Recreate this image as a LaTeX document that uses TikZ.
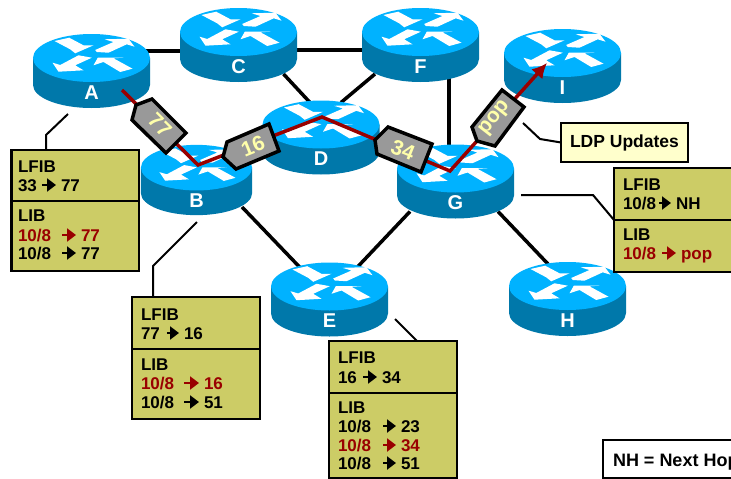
\documentclass[tikz,border=0pt]{standalone}
\usepackage{fontspec}
\setmainfont{Liberation Sans}
\usetikzlibrary{arrows.meta}
\definecolor{routertop}{RGB}{0, 178, 255}
\definecolor{routerside}{RGB}{0, 120, 170}
\definecolor{labelred}{RGB}{153, 0, 0}
\definecolor{panelolive}{RGB}{204, 204, 102}
\definecolor{noteyellow}{RGB}{255, 255, 204}
\definecolor{taggray}{RGB}{153, 153, 153}
\definecolor{tagtext}{RGB}{255, 255, 170}
\pgfdeclarelayer{background}
\pgfsetlayers{background,main}
\tikzset{
    routerbody/.pic={
        \fill[routerside] (-58.5,-13) -- (-58.5,14) arc[start angle=180, end angle=0, x radius=58.5, y radius=23] -- (58.5,-13) -- cycle;
        \fill[routertop] (0,-13) ellipse[x radius=58.5, y radius=24];
        \fill[white] (-37,-30) -- (-22.3,-33.3) -- (-8,-25.7) -- (2,-25.7) -- (-16.3,-17.7) -- (-21.3,-21.7) -- cycle;
        \fill[white] (3.7,-21) -- (22,-29) -- (13,-31.7) -- (37,-32.3) -- (43,-24.3) -- (35.3,-26.7) -- (17,-18.3) -- (5.3,-19) -- cycle;
        \fill[white] (0.3,-13.3) -- (-16.3,-5.7) -- (-8,-0.7) -- (-33,0.7) -- (-39,-8.3) -- (-31.3,-6) -- (-13,-15.7) -- cycle;
        \fill[white] (41,-2.3) -- (22,-12.7) -- (32,-13.3) -- (6.3,-13.3) -- (2,-5.7) -- (12,-9) -- (28.7,1) -- cycle;
    },
    routerbox/.style={minimum width=117pt, minimum height=74pt, inner sep=0pt, outer sep=0pt},
    routername/.style={text=white, inner sep=0pt, font=\fontsize{20}{22}\selectfont\bfseries},
    link/.style={line width=3.5pt, black},
    labelpath/.style={line width=3.5pt, labelred, -{Latex[length=15pt, width=15pt]}},
    tagshape/.style={fill=taggray, draw=black, line width=3.5pt, line join=miter},
    tagname/.style={text=tagtext, inner sep=0pt, font=\fontsize{21}{23}\selectfont\bfseries},
    panel/.style={fill=panelolive, draw=black, line width=2.5pt, inner sep=0pt, outer sep=0pt},
    notebox/.style={draw=black, line width=2.5pt, inner sep=0pt, outer sep=0pt},
    callout/.style={line width=2pt, black},
    cell/.style={anchor=base west, inner sep=0pt, outer sep=0pt, text height=12pt, text depth=0pt, font=\fontsize{17}{20}\selectfont\bfseries},
    fwd/.style={line width=2.5pt, -{Triangle[length=9pt, width=13pt]}, shorten >=5pt}
}
\newcommand{\router}[4][1]{
    \pic[scale=#1] at (#3,#4) {routerbody};
    \node[routerbox, label={[routername, yshift={-21.5pt*#1}]center:#2}] (#2) at (#3,#4) {};
}
% id, baseline, x, text, x, text, gap, colour
\newcommand{\binding}[8]{
    \node[cell, text=#8] (#1a) at (#3,#2) {#4};
    \node[cell, text=#8] (#1b) at (#5,#2) {#6};
    \draw[fwd, #8, shorten <=#7pt] (#1a.east) -- (#1b.west);
}

\begin{document}
\begin{tikzpicture}[x=1pt, y=-1pt]
    \useasboundingbox (0,0) rectangle (731,479);
    \clip (0,0) rectangle (731,479);

    % Routers
    \router{A}{91.5}{71}
    \router{C}{238.5}{45}
    \router{F}{420.5}{45}
    \router{I}{562.5}{66}
    \router{D}{321}{137.5}
    \router[0.95]{B}{196.5}{180}
    \router{G}{455.5}{181.5}
    \router{E}{329.5}{299.5}
    \router{H}{567.5}{299}

    % Links behind the routers
    \begin{pgfonlayer}{background}
        \draw[link] ([shift={(0,-20)}]A.center) -- ([shift={(0,6)}]C.center);
        \draw[link] ([shift={(0,5)}]C.center) -- ([shift={(0,5)}]F.center);
        \draw[link] ([shift={(45,29)}]C.center) -- ([shift={(-11,-35)}]D.center);
        \draw[link] ([shift={(-45.5,29)}]F.center) -- ([shift={(20,-35)}]D.center);
        \draw[link] ([shift={(28.5,30)}]F.center) -- ([shift={(-6.5,-32)}]G.center);
        \draw[link] ([shift={(45.5,27)}]B.center) -- ([shift={(-29.5,-32)}]E.center);
        \draw[link] ([shift={(-45.5,30)}]G.center) -- ([shift={(27.5,-32)}]E.center);
        \draw[link] ([shift={(42.5,30)}]G.center) -- ([shift={(-19.5,-35)}]H.center);
    \end{pgfonlayer}

    % Label switched path
    \draw[labelpath] ([shift={(30.5,19)}]A.center) -- ([shift={(1.5,-15)}]B.center) -- ([shift={(1,-20.5)}]D.center) -- ([shift={(-5.5,-10.5)}]G.center) -- ([shift={(-15.5,-3)}]I.center);

    % Labels on the path
    \draw[tagshape] (132,120) -- (136,105) -- (152,99) -- (186,133) -- (166,153) -- cycle;
    \node[tagname, rotate=-45] (tagB) at (160,125) {77};
    \draw[tagshape] (223,157) -- (227,142) -- (269,124) -- (279,151) -- (236,169) -- cycle;
    \node[tagname, rotate=22] (tagD) at (253,146) {16};
    \draw[tagshape] (375,140) -- (388,127) -- (432,144) -- (421,172) -- (377,154) -- cycle;
    \node[tagname, rotate=-22] (tagG) at (403,150) {34};
    \draw[tagshape] (472,127) -- (502,90) -- (524,107) -- (495,146) -- (477,141) -- cycle;
    \node[tagname, rotate=52] (tagI) at (495,118) {pop};

    % Tables of A
    \node[panel, minimum width=127.5pt, minimum height=51pt] (lfibA) at (75,175.5) {};
    \node[panel, minimum width=127.5pt, minimum height=70pt] (libA) at (75,236) {};
    \draw[callout] ([shift={(-23.5,43)}]A.center) -- (46,135) -- (46,135 |- lfibA.north);
    \node[cell] (lfibAname) at (18,172) {LFIB};
    \binding{ar}{191}{18}{33}{61}{77}{5}{black}
    \node[cell] (libAname) at (18,221) {LIB};
    \binding{as}{241}{18}{10/8}{81}{77}{11}{labelred}
    \binding{at}{259}{18}{10/8}{81}{77}{11}{black}

    % Tables of B
    \node[panel, minimum width=128pt, minimum height=52pt] (lfibB) at (196,323) {};
    \node[panel, minimum width=128pt, minimum height=70pt] (libB) at (196,384) {};
    \draw[callout] ([shift={(0.5,42)}]B.center) -- (153,266) -- (153,266 |- lfibB.north);
    \node[cell] (lfibBname) at (141,320) {LFIB};
    \binding{br}{339}{141}{77}{184}{16}{7}{black}
    \node[cell] (libBname) at (141,370) {LIB};
    \binding{bs}{389}{141}{10/8}{204}{16}{10}{labelred}
    \binding{bt}{408}{141}{10/8}{204}{51}{10}{black}

    % Tables of E
    \node[panel, minimum width=128pt, minimum height=52pt] (lfibE) at (393,367) {};
    \node[panel, minimum width=128pt, minimum height=85pt] (libE) at (393,435.5) {};
    \draw[callout] ([shift={(65.5,19.5)}]E.center) -- (417,341 |- lfibE.north);
    \node[cell] (lfibEname) at (338,363) {LFIB};
    \binding{er}{383}{338}{16}{382}{34}{6}{black}
    \node[cell] (libEname) at (338,413) {LIB};
    \binding{es}{432}{338}{10/8}{401}{23}{12}{black}
    \binding{et}{451}{338}{10/8}{401}{34}{12}{labelred}
    \binding{eu}{469}{338}{10/8}{401}{51}{12}{black}

    % Tables of G
    \node[panel, minimum width=150pt, minimum height=52pt] (lfibG) at (689,194) {};
    \node[panel, minimum width=150pt, minimum height=52pt] (libG) at (689,246) {};
    \draw[callout] ([shift={(65.5,13.5)}]G.center) -- (593,195) -- (lfibG.south west);
    \node[cell] (lfibGname) at (623,190) {LFIB};
    \binding{gr}{209}{623}{10/8}{676}{NH}{3}{black}
    \node[cell] (libGname) at (623,240) {LIB};
    \binding{gs}{259}{623}{10/8}{681}{pop}{6}{labelred}

    % Notes
    \node[notebox, fill=noteyellow, minimum width=127pt, minimum height=39pt, font=\fontsize{17.5}{20}\selectfont\bfseries] (ldpnote) at (624.5,142.5) {LDP Updates};
    \draw[callout] ([shift={(67.5,-58.5)}]G.center) -- (540,139) -- (ldpnote.west);
    \node[notebox, fill=white, minimum width=160pt, minimum height=38pt] (nhnote) at (683,459) {};
    \node[cell, font=\fontsize{18}{20}\selectfont\bfseries] (nhname) at (613,466) {NH = Next Hop};
\end{tikzpicture}
\end{document}
